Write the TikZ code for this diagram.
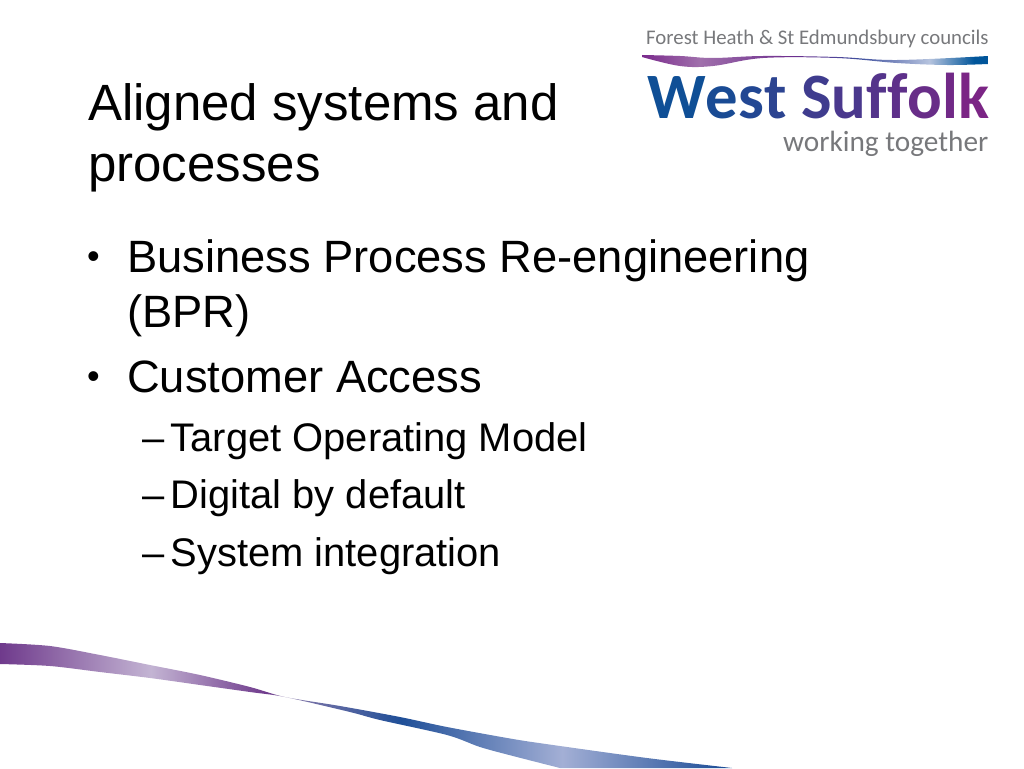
\documentclass[tikz,border=0pt]{standalone}
\usepackage{fontspec}
\setmainfont{Liberation Sans}
\newfontfamily\logofont{Carlito}
\usepackage{tikz}
\definecolor{BLACK}{HTML}{000000}
\definecolor{LOGOGREY}{HTML}{77787B}
\definecolor{LOGOBLUE}{HTML}{0F4F96}
\definecolor{LOGOPURPLE}{HTML}{7B2585}
\definecolor{BANDPURPLE}{HTML}{6F3A8C}
\definecolor{BANDLILAC}{HTML}{C3B4D3}
\definecolor{BANDMID}{HTML}{8A7AAA}
\definecolor{BANDBLUE}{HTML}{1F4F98}
\definecolor{BANDPALE}{HTML}{A3AFD5}
\definecolor{WAVEPURPLE}{HTML}{7A2A8C}
\definecolor{WAVELILAC}{HTML}{A070AC}
\definecolor{WAVEDARK}{HTML}{6E2E8E}
\definecolor{WAVEMID}{HTML}{40509E}
\definecolor{WAVEPALE}{HTML}{B5C3DE}
\definecolor{WAVEBLUE}{HTML}{00559A}
\pgfdeclarehorizontalshading{bandshade}{100bp}{color(0bp)=(BANDPURPLE);color(25bp)=(BANDPURPLE);
    color(35.3bp)=(BANDLILAC);color(43.2bp)=(BANDPURPLE);color(44.5bp)=(BANDMID);
    color(52.4bp)=(BANDBLUE);color(63.4bp)=(BANDPALE);color(74.3bp)=(BANDBLUE);color(100bp)=(BANDBLUE)}
\pgfdeclarehorizontalshading{logoshade}{100bp}{color(0bp)=(WAVEPURPLE);color(25bp)=(WAVEPURPLE);
    color(33.4bp)=(WAVELILAC);color(46.4bp)=(WAVEDARK);color(56.5bp)=(WAVEMID);
    color(66.5bp)=(WAVEPALE);color(73bp)=(WAVEBLUE);color(100bp)=(WAVEBLUE)}
\tikzset{
    titletext/.style={anchor=base west, inner sep=0pt, font=\fontsize{51}{51}\selectfont, BLACK},
    bodytext/.style={anchor=base west, inner sep=0pt, font=\fontsize{45.3}{45.3}\selectfont, BLACK},
    bullettext/.style={anchor=base west, inner sep=0pt, font=\fontsize{36}{36}\selectfont, BLACK},
    subtext/.style={anchor=base west, inner sep=0pt, font=\fontsize{39.9}{39.9}\selectfont, BLACK},
    logotext/.style={anchor=base west, inner sep=0pt, LOGOGREY}
}
\begin{document}
\begin{tikzpicture}[x=1pt, y=-1pt]
    \useasboundingbox (0,0) rectangle (1024,768);
    \node[titletext] (title1) at (88,120) {Aligned systems and};
    \node[titletext] (title2) at (88,181) {processes};
    \node[bullettext] (bullet1) at (87,268.5) {•};
    \node[bodytext] (bpr1) at (127,272) {Business Process Re-engineering};
    \node[bodytext] (bpr2) at (127,327) {(BPR)};
    \node[bullettext] (bullet2) at (87,388.5) {•};
    \node[bodytext] (access) at (127,392) {Customer Access};
    \node[subtext] (dash1) at (142,451) {–};
    \node[subtext] (model) at (170.5,451) {Target Operating Model};
    \node[subtext] (dash2) at (142,508) {–};
    \node[subtext] (digital) at (170.5,508) {Digital by default};
    \node[subtext] (dash3) at (142,566) {–};
    \node[subtext] (integration) at (170.5,566) {System integration};
    \node[logotext, font=\logofont\fontsize{20.8}{20.8}\selectfont] (logotop) at (646,45) {Forest Heath \& St Edmundsbury councils};
    \node[anchor=base west, inner sep=0pt, font=\logofont\bfseries\fontsize{64.7}{64.7}\selectfont] (logomain) at (647,118) {%
        \textcolor{LOGOBLUE}{W}\textcolor{LOGOPURPLE!9!LOGOBLUE}{e}\textcolor{LOGOPURPLE!18!LOGOBLUE}{s}\textcolor{LOGOPURPLE!27!LOGOBLUE}{t}
        \textcolor{LOGOPURPLE!45!LOGOBLUE}{S}\textcolor{LOGOPURPLE!55!LOGOBLUE}{u}\textcolor{LOGOPURPLE!64!LOGOBLUE}{f}\textcolor{LOGOPURPLE!73!LOGOBLUE}{f}\textcolor{LOGOPURPLE!82!LOGOBLUE}{o}\textcolor{LOGOPURPLE!91!LOGOBLUE}{l}\textcolor{LOGOPURPLE}{k}};
    \node[logotext, font=\logofont\fontsize{29.3}{29.3}\selectfont] (logobottom) at (783,151) {working together};
    \shade[shading=logoshade] plot[smooth, tension=0.6] coordinates {(642,55) (680,56) (713,58) (763,56) (837,57) (897,60) (988,56)}
        -- plot[smooth, tension=0.6] coordinates {(988,64) (947,65) (897,63) (837,58) (763,58) (713,66) (680,66) (642,57)} -- cycle;
    \shade[shading=bandshade] plot[smooth, tension=0.5] coordinates {(0,643) (50,646) (100,655) (150,665) (200,675) (250,687) (285,697)
            (340,706) (400,717) (447,727) (513,739) (553,745) (647,758) (732,768)}
        -- plot[smooth, tension=0.5] coordinates {(560,768) (513,756) (480,747) (447,735) (380,720) (350,712) (285,697)
            (250,692) (200,685) (150,678) (100,672) (50,666) (0,664)} -- cycle;
\end{tikzpicture}
\end{document}
